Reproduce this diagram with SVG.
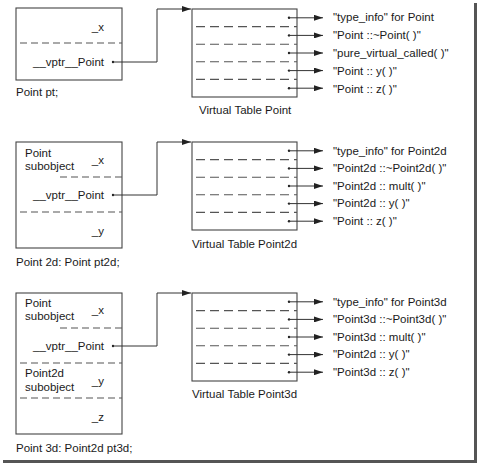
<svg xmlns="http://www.w3.org/2000/svg" width="478" height="463" viewBox="0 0 478 463">
<defs>
<style>
.box{fill:none;stroke:#444;stroke-width:1.1}
.dl{stroke:#555;stroke-width:1.1;stroke-dasharray:7 4;fill:none}
.dv{stroke:#555;stroke-width:1.1;stroke-dasharray:9 5;fill:none}
.ln{stroke:#333;stroke-width:1;fill:none}
.t{font-family:"Liberation Sans",Arial,sans-serif;font-size:11.5px;fill:#1a1a1a}
.s{font-family:"Liberation Sans",Arial,sans-serif;font-size:11.5px;fill:#1a1a1a}
.e{text-anchor:end}
.dot{fill:#222}
</style>
<marker id="ah" markerWidth="9" markerHeight="6" refX="9" refY="3" orient="auto" markerUnits="userSpaceOnUse">
<path d="M0,0 L9,3 L0,6 Z" fill="#222"/>
</marker>
</defs>
<rect width="478" height="463" fill="#fff"/>
<rect x="474" y="3" width="3" height="460" fill="#555"/>
<rect x="3" y="460" width="474" height="3" fill="#555"/>

<g id="obj1">
<rect class="box" x="16" y="8" width="106" height="72"/>
<line class="dl" x1="20" y1="43" x2="122" y2="43"/>
<text class="t e" x="104" y="31">_x</text>
<text class="t e" x="104" y="66">__vptr__Point</text>
<circle class="dot" cx="113" cy="62" r="1.2"/>
<text class="t" x="16" y="96">Point pt;</text>
</g>

<g id="vt1">
<rect class="box" x="192" y="9" width="105" height="88"/>
<line class="dv" x1="196" y1="26.6" x2="297" y2="26.6"/>
<line class="dv" x1="196" y1="44.2" x2="297" y2="44.2"/>
<line class="dv" x1="196" y1="61.8" x2="297" y2="61.8"/>
<line class="dv" x1="196" y1="79.4" x2="297" y2="79.4"/>
<text class="t" x="199" y="114">Virtual Table Point</text>
</g>

<g id="obj2">
<rect class="box" x="16" y="142" width="106" height="106"/>
<line class="dl" x1="60" y1="177" x2="122" y2="177"/>
<line class="dl" x1="20" y1="212" x2="122" y2="212"/>
<text class="t" x="25" y="157">Point</text>
<text class="t" x="25" y="170">subobject</text>
<text class="t e" x="104" y="164">_x</text>
<text class="t e" x="104" y="199">__vptr__Point</text>
<circle class="dot" cx="113" cy="195" r="1.2"/>
<text class="t e" x="104" y="235">_y</text>
<text class="t" x="16" y="266">Point 2d: Point pt2d;</text>
</g>

<g id="vt2">
<rect class="box" x="192" y="142" width="105" height="88"/>
<line class="dv" x1="196" y1="159.6" x2="297" y2="159.6"/>
<line class="dv" x1="196" y1="177.2" x2="297" y2="177.2"/>
<line class="dv" x1="196" y1="194.8" x2="297" y2="194.8"/>
<line class="dv" x1="196" y1="212.4" x2="297" y2="212.4"/>
<text class="t" x="192" y="248">Virtual Table Point2d</text>
</g>

<g id="obj3">
<rect class="box" x="16" y="293" width="106" height="141"/>
<line class="dl" x1="60" y1="328" x2="122" y2="328"/>
<line class="dl" x1="20" y1="363" x2="122" y2="363"/>
<line class="dl" x1="20" y1="398" x2="122" y2="398"/>
<text class="t" x="25" y="307">Point</text>
<text class="t" x="25" y="320">subobject</text>
<text class="t e" x="104" y="314">_x</text>
<text class="t e" x="104" y="350">__vptr__Point</text>
<circle class="dot" cx="113" cy="346" r="1.2"/>
<text class="t" x="25" y="377">Point2d</text>
<text class="t" x="25" y="391">subobject</text>
<text class="t e" x="104" y="385">_y</text>
<text class="t e" x="104" y="421">_z</text>
<text class="t" x="16" y="452">Point 3d: Point2d pt3d;</text>
</g>

<g id="vt3">
<rect class="box" x="192" y="293" width="105" height="88"/>
<line class="dv" x1="196" y1="310.6" x2="297" y2="310.6"/>
<line class="dv" x1="196" y1="328.2" x2="297" y2="328.2"/>
<line class="dv" x1="196" y1="345.8" x2="297" y2="345.8"/>
<line class="dv" x1="196" y1="363.4" x2="297" y2="363.4"/>
<text class="t" x="192" y="398">Virtual Table Point3d</text>
</g>

<g id="fn1">
<text class="s" x="333" y="21">"type_info" for Point</text>
<text class="s" x="333" y="39">"Point ::~Point( )"</text>
<text class="s" x="333" y="57">"pure_virtual_called( )"</text>
<text class="s" x="333" y="75">"Point :: y( )"</text>
<text class="s" x="333" y="93">"Point :: z( )"</text>
</g>
<g id="fn2">
<text class="s" x="333" y="155">"type_info" for Point2d</text>
<text class="s" x="333" y="172">"Point2d ::~Point2d( )"</text>
<text class="s" x="333" y="190">"Point2d :: mult( )"</text>
<text class="s" x="333" y="207">"Point2d :: y( )"</text>
<text class="s" x="333" y="225">"Point :: z( )"</text>
</g>
<g id="fn3">
<text class="s" x="333" y="306">"type_info" for Point3d</text>
<text class="s" x="333" y="323">"Point3d ::~Point3d( )"</text>
<text class="s" x="333" y="341">"Point3d :: mult( )"</text>
<text class="s" x="333" y="358">"Point2d :: y( )"</text>
<text class="s" x="333" y="376">"Point3d :: z( )"</text>
</g>

<g id="connectors">
<path class="ln" d="M113,62 H157 V9 H191" marker-end="url(#ah)"/>
<path class="ln" d="M113,195 H157 V142 H191" marker-end="url(#ah)"/>
<path class="ln" d="M113,346 H157 V293 H191" marker-end="url(#ah)"/>
<g class="dots">
<circle class="dot" cx="289" cy="17.8" r="1.2"/><circle class="dot" cx="289" cy="35.4" r="1.2"/><circle class="dot" cx="289" cy="53" r="1.2"/><circle class="dot" cx="289" cy="70.6" r="1.2"/><circle class="dot" cx="289" cy="88.2" r="1.2"/>
<circle class="dot" cx="289" cy="150.8" r="1.2"/><circle class="dot" cx="289" cy="168.4" r="1.2"/><circle class="dot" cx="289" cy="186" r="1.2"/><circle class="dot" cx="289" cy="203.6" r="1.2"/><circle class="dot" cx="289" cy="221.2" r="1.2"/>
<circle class="dot" cx="289" cy="301.8" r="1.2"/><circle class="dot" cx="289" cy="319.4" r="1.2"/><circle class="dot" cx="289" cy="337" r="1.2"/><circle class="dot" cx="289" cy="354.6" r="1.2"/><circle class="dot" cx="289" cy="372.2" r="1.2"/>
</g>
<path class="ln" marker-end="url(#ah)" d="M289,17.8 H323"/>
<path class="ln" marker-end="url(#ah)" d="M289,35.4 H323"/>
<path class="ln" marker-end="url(#ah)" d="M289,53 H323"/>
<path class="ln" marker-end="url(#ah)" d="M289,70.6 H323"/>
<path class="ln" marker-end="url(#ah)" d="M289,88.2 H323"/>
<path class="ln" marker-end="url(#ah)" d="M289,150.8 H323"/>
<path class="ln" marker-end="url(#ah)" d="M289,168.4 H323"/>
<path class="ln" marker-end="url(#ah)" d="M289,186 H323"/>
<path class="ln" marker-end="url(#ah)" d="M289,203.6 H323"/>
<path class="ln" marker-end="url(#ah)" d="M289,221.2 H323"/>
<path class="ln" marker-end="url(#ah)" d="M289,301.8 H323"/>
<path class="ln" marker-end="url(#ah)" d="M289,319.4 H323"/>
<path class="ln" marker-end="url(#ah)" d="M289,337 H323"/>
<path class="ln" marker-end="url(#ah)" d="M289,354.6 H323"/>
<path class="ln" marker-end="url(#ah)" d="M289,372.2 H323"/>
</g>
</svg>
